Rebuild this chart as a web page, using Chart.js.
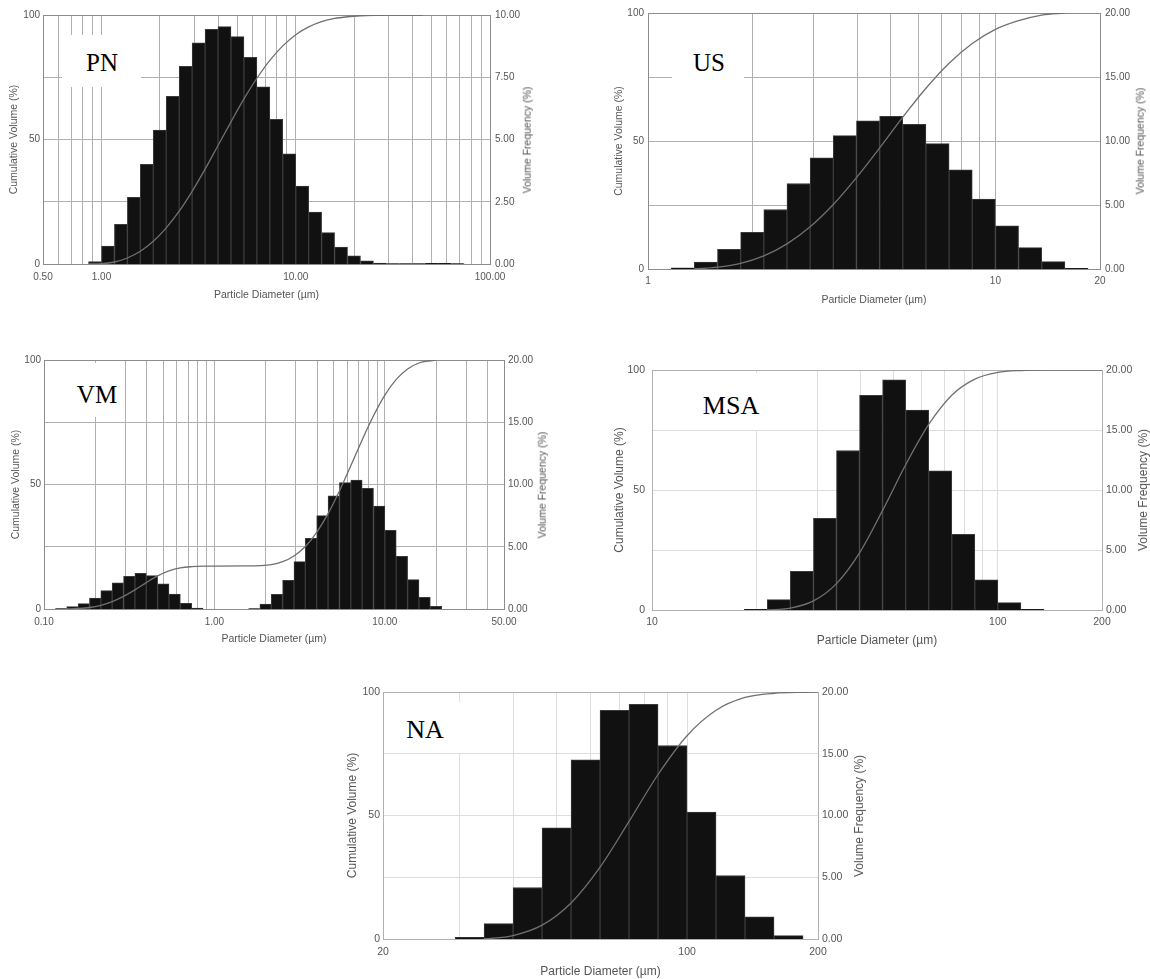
<!DOCTYPE html>
<html>
<head>
<meta charset="utf-8">
<title>Particle size distributions</title>
<script src="https://cdn.jsdelivr.net/npm/chart.js@4.4.1/dist/chart.umd.min.js"></script>
<style>
  html, body { margin: 0; padding: 0; background: #fff; }
  #page { position: relative; width: 1150px; height: 979px; overflow: hidden; font-family: 'Liberation Sans', Arial, sans-serif; }
  .panel { position: absolute; }
  .tag-box { position: absolute; background: #fff; }
  .tag-text { position: absolute; transform: translate(-50%, -50%); font-family: 'Liberation Serif', serif; color: #000; line-height: 1; white-space: nowrap; }
  .title-right { position: absolute; white-space: nowrap; color: #555; line-height: 1; transform: translate(-50%, -50%) rotate(-90deg); }
</style>
</head>
<body>
<div id="page"></div>
<script>
// ---- data ----
// bin edges (µm), volume frequency per bin (%), cumulative volume (%) at diameter

const PN_EDGES = [0.858, 1.0, 1.166, 1.359, 1.585, 1.848, 2.154, 2.512, 2.929, 3.415, 3.981, 4.642, 5.412, 6.310, 7.356, 8.577, 10.0, 11.66, 13.59, 15.85, 18.48, 21.54, 25.12, 29.29, 34.15, 39.81, 46.42, 54.12, 63.10, 73.56];
const PN_FREQ = [0.10, 0.72, 1.59, 2.68, 4.00, 5.38, 6.73, 7.94, 8.88, 9.42, 9.53, 9.13, 8.30, 7.12, 5.81, 4.42, 3.13, 2.09, 1.26, 0.68, 0.33, 0.13, 0.04, 0.02, 0.02, 0.02, 0.03, 0.03, 0.02];
const PN_CUM_D = [0.858, 1.0, 1.166, 1.359, 1.585, 1.848, 2.154, 2.512, 2.929, 3.415, 3.981, 4.642, 5.412, 6.310, 7.356, 8.577, 10.0, 11.66, 13.59, 15.85, 18.48, 21.54, 25.12, 29.29, 45.0];
const PN_CUM = [0, 0.1, 0.8, 2.4, 5.1, 9.1, 14.5, 21.2, 29.2, 38.1, 47.6, 57.1, 66.3, 74.6, 81.8, 87.6, 92.1, 95.2, 97.3, 98.6, 99.3, 99.7, 99.9, 100, 100];
const PN_GRID = [0.5, 0.6, 0.7, 0.8, 0.9, 1, 2, 3, 4, 5, 6, 7, 8, 9, 10, 20, 30, 40, 50, 60, 70, 80, 90, 100];
const PN_XTICKS = [0.5, 1, 10, 100];
const PN_XLABELS = ['0.50', '1.00', '10.00', '100.00'];

const US_EDGES = [1.166, 1.359, 1.585, 1.848, 2.154, 2.512, 2.929, 3.415, 3.981, 4.642, 5.412, 6.310, 7.356, 8.577, 10.0, 11.66, 13.59, 15.85, 18.48];
const US_FREQ = [0.10, 0.55, 1.54, 2.87, 4.65, 6.68, 8.69, 10.42, 11.57, 11.93, 11.31, 9.79, 7.75, 5.46, 3.37, 1.67, 0.57, 0.05];
const US_CUM_D = [1.359, 1.585, 1.848, 2.154, 2.512, 2.929, 3.415, 3.981, 4.642, 5.412, 6.310, 7.356, 8.577, 10.0, 11.66, 13.59, 15.85];
const US_CUM = [0, 0.7, 2.2, 5.1, 9.8, 16.5, 25.2, 35.7, 47.3, 59.3, 70.6, 80.4, 88.1, 93.6, 97.0, 99.2, 100];
const US_GRID = [1, 2, 3, 4, 5, 6, 7, 8, 9, 10, 20];
const US_XTICKS = [1, 10, 20];
const US_XLABELS = ['1', '10', '20'];

const VM_EDGES = [0.1166, 0.1359, 0.1585, 0.1848, 0.2154, 0.2512, 0.2929, 0.3415, 0.3981, 0.4642, 0.5412, 0.6310, 0.7356, 0.8577, 1.0, 1.166, 1.359, 1.585, 1.848, 2.154, 2.512, 2.929, 3.415, 3.981, 4.642, 5.412, 6.310, 7.356, 8.577, 10.0, 11.66, 13.59, 15.85, 18.48, 21.54];
const VM_FREQ = [0.04, 0.19, 0.43, 0.88, 1.47, 2.10, 2.62, 2.86, 2.68, 2.03, 1.20, 0.46, 0.08, null, null, null, null, 0.04, 0.40, 1.18, 2.30, 3.80, 5.68, 7.50, 9.10, 10.15, 10.36, 9.69, 8.27, 6.32, 4.23, 2.36, 0.94, 0.21];
const VM_CUM_D = [0.1359, 0.1585, 0.1848, 0.2154, 0.2512, 0.2929, 0.3415, 0.3981, 0.4642, 0.5412, 0.6310, 0.7356, 0.8577, 1.0, 1.585, 1.848, 2.154, 2.512, 2.929, 3.415, 3.981, 4.642, 5.412, 6.310, 7.356, 8.577, 10.0, 11.66, 13.59, 15.85, 18.48, 20.0];
const VM_CUM = [0, 0.2, 0.6, 1.5, 3.0, 5.1, 7.7, 10.6, 13.3, 15.3, 16.5, 17.0, 17.2, 17.2, 17.3, 17.4, 17.8, 19.0, 21.3, 25.1, 30.8, 38.3, 47.4, 57.5, 67.9, 77.6, 85.9, 92.2, 96.4, 98.8, 99.7, 100];
const VM_GRID = [0.1, 0.2, 0.3, 0.4, 0.5, 0.6, 0.7, 0.8, 0.9, 1, 2, 3, 4, 5, 6, 7, 8, 9, 10, 20, 30, 40, 50];
const VM_XTICKS = [0.1, 1, 10, 50];
const VM_XLABELS = ['0.10', '1.00', '10.00', '50.00'];

const MSA_EDGES = [18.48, 21.54, 25.12, 29.29, 34.15, 39.81, 46.42, 54.12, 63.10, 73.56, 85.77, 100.0, 116.6, 135.9];
const MSA_FREQ = [0.05, 0.86, 3.23, 7.63, 13.29, 17.88, 19.19, 16.66, 11.59, 6.30, 2.51, 0.61, 0.05];
const MSA_CUM_D = [21.54, 25.12, 29.29, 34.15, 39.81, 46.42, 54.12, 63.10, 73.56, 85.77, 100.0, 116.6, 135.9, 200];
const MSA_CUM = [0, 0.8, 3.8, 11.0, 23.8, 41.5, 60.5, 77.3, 89.5, 96.2, 99.0, 99.8, 100, 100];
const MSA_GRID = [10, 20, 30, 40, 50, 60, 70, 80, 90, 100, 200];
const MSA_XTICKS = [10, 100, 200];
const MSA_XLABELS = ['10', '100', '200'];

const NA_EDGES = [29.29, 34.15, 39.81, 46.42, 54.12, 63.10, 73.56, 85.77, 100.0, 116.6, 135.9, 158.5, 184.8];
const NA_FREQ = [0.14, 1.24, 4.17, 9.01, 14.51, 18.51, 19.00, 15.67, 10.28, 5.14, 1.79, 0.27];
const NA_CUM_D = [34.15, 39.81, 46.42, 54.12, 63.10, 73.56, 85.77, 100.0, 116.6, 135.9, 158.5, 184.8, 200];
const NA_CUM = [0, 1.4, 5.6, 14.6, 29.1, 47.6, 66.6, 82.3, 92.6, 97.8, 99.5, 99.9, 100];
const NA_GRID = [20, 30, 40, 50, 60, 70, 80, 90, 100, 200];
const NA_XTICKS = [20, 100, 200];
const NA_XLABELS = ['20', '100', '200'];

const CUM_TICKS = [0, 25, 50, 75, 100];
const CUM_LABELED = [0, 50, 100];

const PANELS = [
    { tag: 'PN', edges: PN_EDGES, freq: PN_FREQ, cumD: PN_CUM_D, cum: PN_CUM, grid: PN_GRID, xTicks: PN_XTICKS, xLabels: PN_XLABELS, xMin: 0.5, xMax: 100, fMax: 10, fStep: 2.5 },
    { tag: 'US', edges: US_EDGES, freq: US_FREQ, cumD: US_CUM_D, cum: US_CUM, grid: US_GRID, xTicks: US_XTICKS, xLabels: US_XLABELS, xMin: 1, xMax: 20, fMax: 20, fStep: 5 },
    { tag: 'VM', edges: VM_EDGES, freq: VM_FREQ, cumD: VM_CUM_D, cum: VM_CUM, grid: VM_GRID, xTicks: VM_XTICKS, xLabels: VM_XLABELS, xMin: 0.1, xMax: 50, fMax: 20, fStep: 5 },
    { tag: 'MSA', edges: MSA_EDGES, freq: MSA_FREQ, cumD: MSA_CUM_D, cum: MSA_CUM, grid: MSA_GRID, xTicks: MSA_XTICKS, xLabels: MSA_XLABELS, xMin: 10, xMax: 200, fMax: 20, fStep: 5 },
    { tag: 'NA', edges: NA_EDGES, freq: NA_FREQ, cumD: NA_CUM_D, cum: NA_CUM, grid: NA_GRID, xTicks: NA_XTICKS, xLabels: NA_XLABELS, xMin: 20, xMax: 200, fMax: 20, fStep: 5 }
];

// ---- layout of each panel on the page (px) ----
const DARK = { tick: 10, title: 10.5, grid: '#b0b0b0', border: '#8c8c8c' };
const LIGHT = { tick: 10.5, title: 12, grid: '#dedede', border: '#b0b0b0' };

const LAYOUT = {
    PN:  { style: DARK, canvas: { x: 0, y: 0, w: 545, h: 310 }, plot: { l: 43, t: 15, r: 490, b: 264 },
           leftLabelR: 40, rightLabelL: 495, leftTitleX: 14, rightTitleX: 527, xLabelY: 277, xTitleY: 295,
           tagBox: { x: 62, y: 35, w: 79, h: 52 }, tagText: { x: 102, y: 62, size: 25 } },
    US:  { style: DARK, canvas: { x: 600, y: 0, w: 550, h: 315 }, plot: { l: 648, t: 13, r: 1100, b: 269 },
           leftLabelR: 644, rightLabelL: 1105, leftTitleX: 619, rightTitleX: 1140, xLabelY: 281, xTitleY: 300,
           tagBox: { x: 672, y: 30, w: 72, h: 48 }, tagText: { x: 709, y: 62, size: 25 } },
    VM:  { style: DARK, canvas: { x: 0, y: 345, w: 545, h: 305 }, plot: { l: 44, t: 360, r: 504, b: 609 },
           leftLabelR: 41, rightLabelL: 508, leftTitleX: 16, rightTitleX: 542, xLabelY: 622, xTitleY: 639,
           tagBox: { x: 56, y: 363, w: 68, h: 54 }, tagText: { x: 97, y: 394, size: 25 } },
    MSA: { style: LIGHT, canvas: { x: 600, y: 355, w: 550, h: 300 }, plot: { l: 652, t: 370, r: 1102, b: 610 },
           leftLabelR: 645, rightLabelL: 1106, leftTitleX: 620, rightTitleX: 1143, xLabelY: 622, xTitleY: 641,
           tagBox: { x: 672, y: 373, w: 120, h: 57 }, tagText: { x: 731, y: 406, size: 26 } },
    NA:  { style: LIGHT, canvas: { x: 330, y: 680, w: 550, h: 299 }, plot: { l: 383, t: 692, r: 818, b: 939 },
           leftLabelR: 380, rightLabelL: 822, leftTitleX: 353, rightTitleX: 859, xLabelY: 952, xTitleY: 972,
           tagBox: { x: 384, y: 702, w: 81, h: 51 }, tagText: { x: 425, y: 730, size: 26 } }
};

const TEXT_COLOR = '#555';
const page = document.getElementById('page');

function addDiv(cls, css, text) {
    const el = document.createElement('div');
    el.className = cls;
    Object.assign(el.style, css);
    if (text) el.textContent = text;
    page.appendChild(el);
    return el;
}

function drawPanel(p) {
    const L = LAYOUT[p.tag];
    const s = L.style;
    const c = L.canvas;
    const lw = L.plot.l - c.x;
    const rw = c.x + c.w - L.plot.r;
    const pt = L.plot.t - c.y;
    const bh = c.y + c.h - L.plot.b;
    const tickLH = s.tick * 1.2;
    const titleLH = s.title * 1.2;

    const holder = addDiv('panel', { left: c.x + 'px', top: c.y + 'px', width: c.w + 'px', height: c.h + 'px' });
    const canvas = document.createElement('canvas');
    holder.appendChild(canvas);

    // bar centre = geometric middle of each size class
    const centers = p.freq.map((_, i) => Math.sqrt(p.edges[i] * p.edges[i + 1]));

    new Chart(canvas, {
        data: {
            datasets: [
                {
                    type: 'line',
                    label: 'Cumulative Volume (%)',
                    data: p.cumD.map((d, i) => ({ x: d, y: p.cum[i] })),
                    yAxisID: 'yL',
                    borderColor: '#707070',
                    borderWidth: 1.3,
                    pointRadius: 0,
                    fill: false,
                    cubicInterpolationMode: 'monotone',
                    order: 0
                },
                {
                    type: 'bar',
                    label: 'Volume Frequency (%)',
                    data: centers.map((d, i) => ({ x: d, y: p.freq[i] })),
                    yAxisID: 'yR',
                    backgroundColor: '#111111',
                    borderColor: '#3a3a3a',
                    borderWidth: 1,
                    barThickness: 'flex',
                    categoryPercentage: 1,
                    barPercentage: 1,
                    order: 1
                }
            ]
        },
        options: {
            responsive: true,
            maintainAspectRatio: false,
            animation: false,
            layout: { padding: { top: pt, left: 0, right: 0, bottom: 0 } },
            plugins: { legend: { display: false }, tooltip: { enabled: false } },
            scales: {
                x: {
                    type: 'logarithmic',
                    position: 'bottom',
                    min: p.xMin,
                    max: p.xMax,
                    offset: false,
                    afterBuildTicks: (sc) => { sc.ticks = p.grid.map(v => ({ value: v })); },
                    afterFit: (sc) => { sc.height = bh; },
                    grid: { color: (ctx) => (ctx.tick && (ctx.tick.value === p.xMin || ctx.tick.value === p.xMax)) ? s.border : s.grid, drawTicks: false, offset: false },
                    border: { color: s.border },
                    ticks: {
                        autoSkip: false,
                        maxRotation: 0,
                        minRotation: 0,
                        color: TEXT_COLOR,
                        font: { size: s.tick },
                        padding: L.xLabelY - L.plot.b - tickLH / 2,
                        callback: (v) => {
                            const i = p.xTicks.indexOf(v);
                            return i >= 0 ? p.xLabels[i] : '';
                        }
                    },
                    title: {
                        display: true,
                        text: 'Particle Diameter (µm)',
                        color: TEXT_COLOR,
                        font: { size: s.title },
                        padding: { top: 0, bottom: Math.max(0, c.y + c.h - L.xTitleY - titleLH / 2) }
                    }
                },
                yL: {
                    type: 'linear',
                    position: 'left',
                    min: 0,
                    max: 100,
                    afterBuildTicks: (sc) => { sc.ticks = CUM_TICKS.map(v => ({ value: v })); },
                    afterFit: (sc) => { sc.width = lw; },
                    grid: { color: (ctx) => (ctx.tick && ctx.tick.value === 100) ? s.border : s.grid, drawTicks: false },
                    border: { color: s.border },
                    ticks: {
                        color: TEXT_COLOR,
                        font: { size: s.tick },
                        padding: L.plot.l - L.leftLabelR,
                        callback: (v) => CUM_LABELED.includes(v) ? String(v) : ''
                    },
                    title: {
                        display: true,
                        text: 'Cumulative Volume (%)',
                        color: TEXT_COLOR,
                        font: { size: s.title },
                        padding: { top: L.leftTitleX - c.x - titleLH / 2, bottom: 0 }
                    }
                },
                yR: {
                    type: 'linear',
                    position: 'right',
                    min: 0,
                    max: p.fMax,
                    afterFit: (sc) => { sc.width = rw; },
                    grid: { display: false, drawTicks: false },
                    border: { color: s.border },
                    ticks: {
                        stepSize: p.fStep,
                        color: TEXT_COLOR,
                        font: { size: s.tick },
                        padding: L.rightLabelL - L.plot.r,
                        callback: (v) => v.toFixed(2)
                    }
                }
            }
        }
    });

    addDiv('title-right', {
        left: L.rightTitleX + 'px',
        top: (L.plot.t + L.plot.b) / 2 + 'px',
        fontSize: s.title + 'px'
    }, 'Volume Frequency (%)');

    const b = L.tagBox;
    addDiv('tag-box', { left: b.x + 'px', top: b.y + 'px', width: b.w + 'px', height: b.h + 'px' });
    addDiv('tag-text', { left: L.tagText.x + 'px', top: L.tagText.y + 'px', fontSize: L.tagText.size + 'px' }, p.tag);
}

PANELS.forEach(drawPanel);
</script>
</body>
</html>
